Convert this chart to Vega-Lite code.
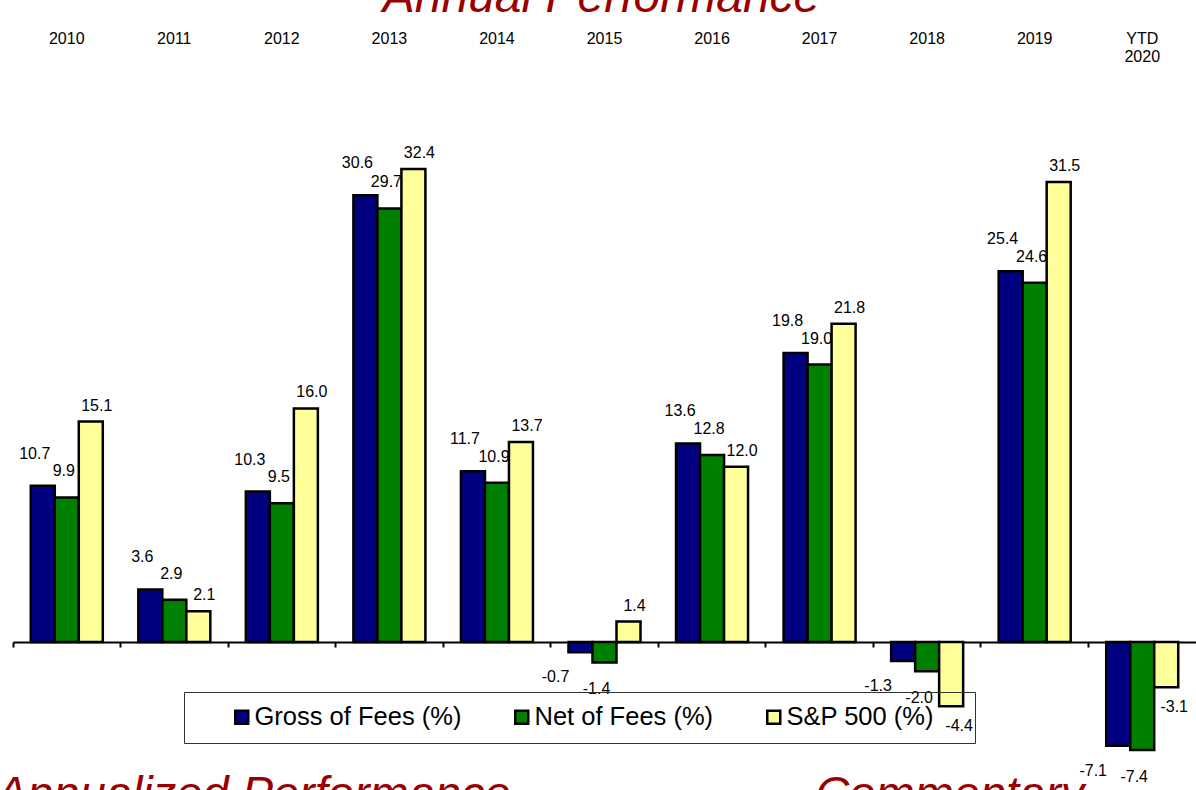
{
  "$schema": "https://vega.github.io/schema/vega-lite/v6.json",
  "width": 1183,
  "height": 790,
  "autosize": {"type": "none"},
  "padding": {"left": 13, "top": 0, "right": 0, "bottom": 0},
  "background": "white",
  "config": {
    "view": {"stroke": null},
    "font": "Liberation Sans",
    "locale": {"number": {"decimal": ".", "thousands": ",", "grouping": [3], "currency": ["$", ""], "minus": "-"}}
  },
  "data": {
    "values": [
      {"year": "2010", "series": "Gross of Fees (%)", "value": 10.7},
      {"year": "2010", "series": "Net of Fees (%)", "value": 9.9},
      {"year": "2010", "series": "S&P 500 (%)", "value": 15.1},
      {"year": "2011", "series": "Gross of Fees (%)", "value": 3.6},
      {"year": "2011", "series": "Net of Fees (%)", "value": 2.9},
      {"year": "2011", "series": "S&P 500 (%)", "value": 2.1},
      {"year": "2012", "series": "Gross of Fees (%)", "value": 10.3},
      {"year": "2012", "series": "Net of Fees (%)", "value": 9.5},
      {"year": "2012", "series": "S&P 500 (%)", "value": 16.0},
      {"year": "2013", "series": "Gross of Fees (%)", "value": 30.6},
      {"year": "2013", "series": "Net of Fees (%)", "value": 29.7},
      {"year": "2013", "series": "S&P 500 (%)", "value": 32.4},
      {"year": "2014", "series": "Gross of Fees (%)", "value": 11.7},
      {"year": "2014", "series": "Net of Fees (%)", "value": 10.9},
      {"year": "2014", "series": "S&P 500 (%)", "value": 13.7},
      {"year": "2015", "series": "Gross of Fees (%)", "value": -0.7},
      {"year": "2015", "series": "Net of Fees (%)", "value": -1.4},
      {"year": "2015", "series": "S&P 500 (%)", "value": 1.4},
      {"year": "2016", "series": "Gross of Fees (%)", "value": 13.6},
      {"year": "2016", "series": "Net of Fees (%)", "value": 12.8},
      {"year": "2016", "series": "S&P 500 (%)", "value": 12.0},
      {"year": "2017", "series": "Gross of Fees (%)", "value": 19.8},
      {"year": "2017", "series": "Net of Fees (%)", "value": 19.0},
      {"year": "2017", "series": "S&P 500 (%)", "value": 21.8},
      {"year": "2018", "series": "Gross of Fees (%)", "value": -1.3},
      {"year": "2018", "series": "Net of Fees (%)", "value": -2.0},
      {"year": "2018", "series": "S&P 500 (%)", "value": -4.4},
      {"year": "2019", "series": "Gross of Fees (%)", "value": 25.4},
      {"year": "2019", "series": "Net of Fees (%)", "value": 24.6},
      {"year": "2019", "series": "S&P 500 (%)", "value": 31.5},
      {"year": "2020", "series": "Gross of Fees (%)", "value": -7.1},
      {"year": "2020", "series": "Net of Fees (%)", "value": -7.4},
      {"year": "2020", "series": "S&P 500 (%)", "value": -3.1}
    ]
  },
  "resolve": {"axis": {"x": "independent"}},
  "layer": [
    {
      "mark": {"type": "bar", "stroke": "black", "strokeWidth": 2.5},
      "encoding": {
        "x": {
          "field": "year", "type": "nominal", "sort": null,
          "scale": {"domain": ["2010","2011","2012","2013","2014","2015","2016","2017","2018","2019","2020"], "paddingInner": 0, "paddingOuter": 0},
          "axis": {"orient": "top", "domain": false, "ticks": false, "tickSize": 0, "grid": false, "labelPadding": 0, "offset": -46.7, "labelFontSize": 16, "labelFont": "Liberation Sans", "labelColor": "black", "labelBaseline": "bottom", "labelLineHeight": 18, "labelAngle": 0, "title": null, "labelExpr": "datum.value == '2020' ? ['YTD', '2020'] : datum.label"}
        },
        "xOffset": {"field": "series", "type": "nominal", "sort": ["Gross of Fees (%)", "Net of Fees (%)", "S&P 500 (%)"], "scale": {"paddingInner": 0, "paddingOuter": 0.74}},
        "y": {"field": "value", "type": "quantitative", "scale": {"domain": [-10.137, 43.973], "nice": false, "zero": true}, "axis": null},
        "color": {
          "field": "series", "type": "nominal",
          "scale": {"domain": ["Gross of Fees (%)", "Net of Fees (%)", "S&P 500 (%)"], "range": ["#000080", "#008000", "#FFFF99"]},
          "legend": {
            "orient": "none", "legendX": 171, "legendY": 692, "direction": "horizontal",
            "title": "\u00a0", "titleOrient": "right", "titleFontSize": 25.5, "titlePadding": 29,
            "labelFontSize": 25.5, "labelFont": "Liberation Sans", "labelColor": "black", "labelOffset": 0, "labelLimit": 400,
            "symbolType": "square", "symbolSize": 169, "symbolStrokeColor": "black", "symbolStrokeWidth": 2.5, "symbolOpacity": 1, "symbolOffset": 33,
            "columnPadding": 14, "padding": 12, "strokeColor": "#333333"
          }
        }
      }
    },
    {
      "transform": [{"filter": "datum.series == 'Gross of Fees (%)' && datum.value >= 0"}],
      "mark": {"type": "text", "fontSize": 16, "font": "Liberation Sans", "color": "black", "baseline": "middle", "align": "center", "dx": -8, "dy": -32},
      "encoding": {
        "x": {"field": "year", "type": "nominal", "sort": null, "axis": {"orient": "bottom", "offset": -148, "domain": true, "domainColor": "black", "domainWidth": 2, "ticks": true, "tickColor": "black", "tickWidth": 2, "tickSize": 5, "bandPosition": 0, "labels": false, "title": null, "grid": false}},
        "xOffset": {"field": "series", "type": "nominal", "sort": ["Gross of Fees (%)", "Net of Fees (%)", "S&P 500 (%)"]},
        "y": {"field": "value", "type": "quantitative", "axis": null},
        "text": {"field": "value", "type": "quantitative", "format": ".1f"}
      }
    },
    {
      "transform": [{"filter": "datum.series == 'Net of Fees (%)' && datum.value >= 0"}],
      "mark": {"type": "text", "fontSize": 16, "font": "Liberation Sans", "color": "black", "baseline": "middle", "align": "center", "dx": -3, "dy": -26},
      "encoding": {
        "x": {"field": "year", "type": "nominal", "sort": null, "axis": null},
        "xOffset": {"field": "series", "type": "nominal", "sort": ["Gross of Fees (%)", "Net of Fees (%)", "S&P 500 (%)"]},
        "y": {"field": "value", "type": "quantitative", "axis": null},
        "text": {"field": "value", "type": "quantitative", "format": ".1f"}
      }
    },
    {
      "transform": [{"filter": "datum.series == 'S&P 500 (%)' && datum.value >= 0"}],
      "mark": {"type": "text", "fontSize": 16, "font": "Liberation Sans", "color": "black", "baseline": "middle", "align": "center", "dx": 6, "dy": -16},
      "encoding": {
        "x": {"field": "year", "type": "nominal", "sort": null, "axis": null},
        "xOffset": {"field": "series", "type": "nominal", "sort": ["Gross of Fees (%)", "Net of Fees (%)", "S&P 500 (%)"]},
        "y": {"field": "value", "type": "quantitative", "axis": null},
        "text": {"field": "value", "type": "quantitative", "format": ".1f"}
      }
    },
    {
      "transform": [{"filter": "datum.series == 'Gross of Fees (%)' && datum.value < 0"}],
      "mark": {"type": "text", "fontSize": 16, "font": "Liberation Sans", "color": "black", "baseline": "middle", "align": "center", "dx": -25, "dy": 25},
      "encoding": {
        "x": {"field": "year", "type": "nominal", "sort": null, "axis": null},
        "xOffset": {"field": "series", "type": "nominal", "sort": ["Gross of Fees (%)", "Net of Fees (%)", "S&P 500 (%)"]},
        "y": {"field": "value", "type": "quantitative", "axis": null},
        "text": {"field": "value", "type": "quantitative", "format": ".1f"}
      }
    },
    {
      "transform": [{"filter": "datum.series == 'Net of Fees (%)' && datum.value < 0"}],
      "mark": {"type": "text", "fontSize": 16, "font": "Liberation Sans", "color": "black", "baseline": "middle", "align": "center", "dx": -8, "dy": 27},
      "encoding": {
        "x": {"field": "year", "type": "nominal", "sort": null, "axis": null},
        "xOffset": {"field": "series", "type": "nominal", "sort": ["Gross of Fees (%)", "Net of Fees (%)", "S&P 500 (%)"]},
        "y": {"field": "value", "type": "quantitative", "axis": null},
        "text": {"field": "value", "type": "quantitative", "format": ".1f"}
      }
    },
    {
      "transform": [{"filter": "datum.series == 'S&P 500 (%)' && datum.value < 0"}],
      "mark": {"type": "text", "fontSize": 16, "font": "Liberation Sans", "color": "black", "baseline": "middle", "align": "center", "dx": 8, "dy": 20},
      "encoding": {
        "x": {"field": "year", "type": "nominal", "sort": null, "axis": null},
        "xOffset": {"field": "series", "type": "nominal", "sort": ["Gross of Fees (%)", "Net of Fees (%)", "S&P 500 (%)"]},
        "y": {"field": "value", "type": "quantitative", "axis": null},
        "text": {"field": "value", "type": "quantitative", "format": ".1f"}
      }
    },
    {
      "data": {"values": [{"t": "Annual Performance"}]},
      "mark": {"type": "text", "fontSize": 48, "font": "Liberation Sans", "fontStyle": "italic", "color": "#9B0000", "baseline": "alphabetic", "align": "center", "dx": -3},
      "encoding": {
        "x": {"datum": "2015", "type": "nominal", "axis": null},
        "y": {"datum": 43.18, "type": "quantitative", "axis": null},
        "text": {"field": "t", "type": "nominal"}
      }
    },
    {
      "data": {"values": [{"t": "Annualized Performance"}]},
      "mark": {"type": "text", "fontSize": 47, "font": "Liberation Sans", "fontStyle": "italic", "color": "#9B0000", "baseline": "alphabetic", "align": "left", "dx": -17},
      "encoding": {
        "x": {"datum": "2010", "type": "nominal", "bandPosition": 0, "axis": null},
        "y": {"datum": -11.42, "type": "quantitative", "axis": null},
        "text": {"field": "t", "type": "nominal"}
      }
    },
    {
      "data": {"values": [{"t": "Commentary"}]},
      "mark": {"type": "text", "fontSize": 47, "font": "Liberation Sans", "fontStyle": "italic", "color": "#9B0000", "baseline": "alphabetic", "align": "left", "dx": -58},
      "encoding": {
        "x": {"datum": "2018", "type": "nominal", "bandPosition": 0, "axis": null},
        "y": {"datum": -11.42, "type": "quantitative", "axis": null},
        "text": {"field": "t", "type": "nominal"}
      }
    }
  ]
}
